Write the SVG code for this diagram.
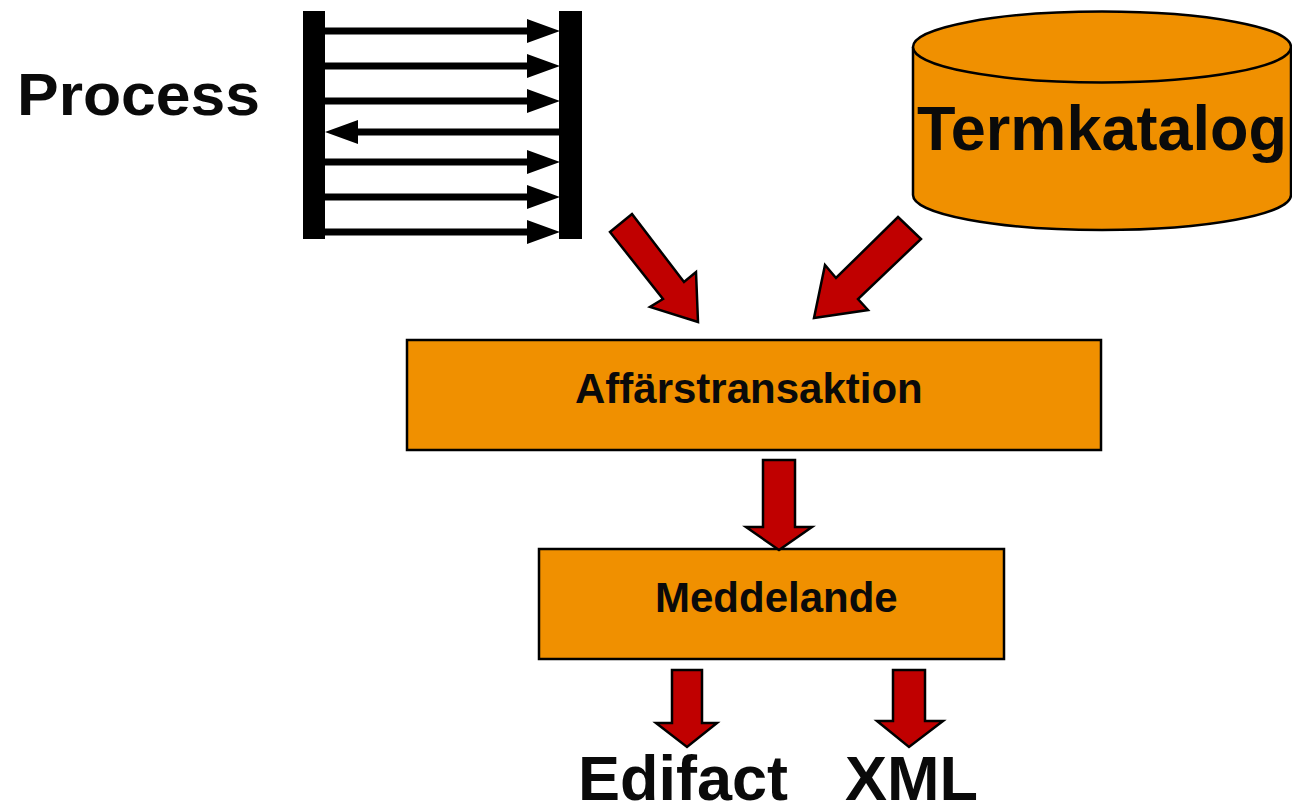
<svg xmlns="http://www.w3.org/2000/svg" width="1292" height="805" viewBox="0 0 1292 805">
<style>
.lbl{font-family:"Liberation Sans",Arial,sans-serif;font-weight:bold;fill:#0a0a0a}
.box{fill:#F09000;stroke:#000;stroke-width:2.5}
.red{fill:#C00000;stroke:#000;stroke-width:2.5;stroke-linejoin:miter}
.msg{stroke:#000;stroke-width:7}
.head{fill:#000}
</style>
<rect width="1292" height="805" fill="#fff"/>
<g id="process-label"><text class="lbl" x="17" y="115" font-size="60" textLength="243" lengthAdjust="spacingAndGlyphs">Process</text></g>
<g id="process">
<rect x="303" y="11" width="22" height="228" fill="#000"/>
<rect x="559" y="11" width="23" height="228" fill="#000"/>
<line class="msg" x1="325" y1="31" x2="530" y2="31"/><polygon class="head" points="527,19 560,31 527,43"/>
<line class="msg" x1="325" y1="66" x2="530" y2="66"/><polygon class="head" points="527,54 560,66 527,78"/>
<line class="msg" x1="325" y1="101" x2="530" y2="101"/><polygon class="head" points="527,89 560,101 527,113"/>
<line class="msg" x1="355" y1="132" x2="559" y2="132"/><polygon class="head" points="358,120 325,132 358,144"/>
<line class="msg" x1="325" y1="162" x2="530" y2="162"/><polygon class="head" points="527,150 560,162 527,174"/>
<line class="msg" x1="325" y1="197" x2="530" y2="197"/><polygon class="head" points="527,185 560,197 527,209"/>
<line class="msg" x1="325" y1="232" x2="530" y2="232"/><polygon class="head" points="527,220 560,232 527,244"/>
</g>
<g id="termkatalog">
<path class="box" d="M913,47 L913,195 A189,35 0 0 0 1291,195 L1291,47"/>
<ellipse class="box" cx="1102" cy="47" rx="189" ry="35.5"/>
<text class="lbl" x="917" y="150" font-size="63">Termkatalog</text>
</g>
<g id="affarstransaktion">
<rect class="box" x="407" y="340" width="694" height="110"/>
<text class="lbl" x="575" y="403" font-size="42">Affärstransaktion</text>
</g>
<g id="meddelande">
<rect class="box" x="539" y="549" width="465" height="110"/>
<text class="lbl" x="655" y="612" font-size="42">Meddelande</text>
</g>
<g id="edifact"><text class="lbl" x="578" y="800" font-size="63">Edifact</text></g>
<g id="xml"><text class="lbl" x="845" y="800" font-size="63">XML</text></g>
<g id="connectors">
<polygon class="red" points="632,214 684,282 696,272 698,322 650,307 663,299 610,232"/>
<polygon class="red" points="898,217 921,239 858,299 868,310 814,318 825,265 836,278"/>
<polygon class="red" points="763,460 795,460 795,527 812,527 779,550 746,527 763,527"/>
<polygon class="red" points="672,670 702,670 702,723 717,723 687,747 656,723 672,723"/>
<polygon class="red" points="893,670 925,670 925,721 943,721 909,747 877,721 893,721"/>
</g>
</svg>
